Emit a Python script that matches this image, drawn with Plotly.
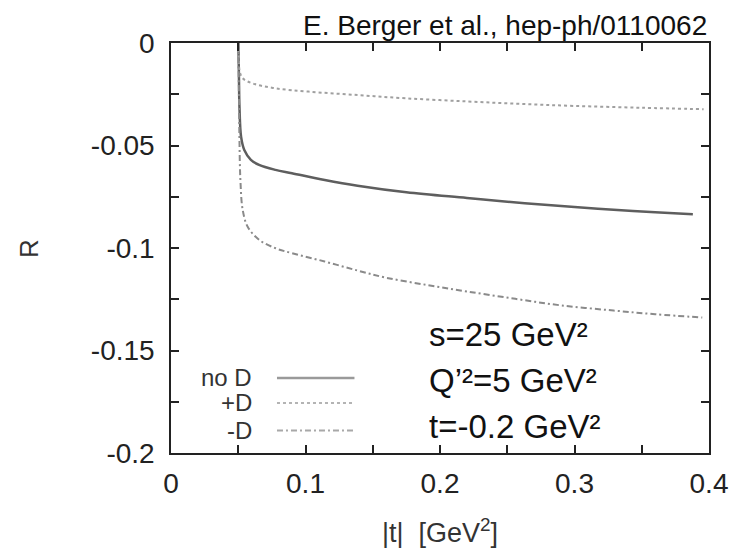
import plotly.graph_objects as go

# ---- data ----
t_noD = [0.0501, 0.0505, 0.0509, 0.0521, 0.0545, 0.0594, 0.0655, 0.0777, 0.0899, 0.1143,
         0.1387, 0.175, 0.22, 0.263, 0.30, 0.329, 0.360, 0.388]
R_noD = [0.0, -0.016, -0.031, -0.0457, -0.0522, -0.057, -0.0595, -0.0619, -0.0635, -0.0668,
         -0.0696, -0.0728, -0.0756, -0.0782, -0.0800, -0.0814, -0.0826, -0.0835]

t_plusD = [0.0501, 0.0505, 0.0509, 0.0533, 0.0606, 0.0777, 0.1021, 0.1387, 0.175, 0.22,
           0.26, 0.30, 0.35, 0.396]
R_plusD = [0.0, -0.008, -0.0132, -0.0172, -0.0197, -0.0221, -0.0237, -0.0254, -0.027, -0.0285,
           -0.0297, -0.0307, -0.0316, -0.0323]

t_minusD = [0.0501, 0.0505, 0.0509, 0.0516, 0.0533, 0.057, 0.0655, 0.0777, 0.0899, 0.1143,
            0.1387, 0.16, 0.19, 0.22, 0.256, 0.29, 0.329, 0.36, 0.395]
R_minusD = [0.0, -0.025, -0.0473, -0.0668, -0.0814, -0.0896, -0.096, -0.1001, -0.1025, -0.1066,
            -0.111, -0.1145, -0.118, -0.1212, -0.1248, -0.128, -0.1305, -0.1323, -0.1339]

series_names = ["no D", "+D", "-D"]
x_tickvals = [0, 0.05, 0.1, 0.15, 0.2, 0.25, 0.3, 0.35, 0.4]
x_ticktext = ["0", "", "0.1", "", "0.2", "", "0.3", "", "0.4"]
y_tickvals = [0, -0.025, -0.05, -0.075, -0.1, -0.125, -0.15, -0.175, -0.2]
y_ticktext = ["0", "", "-0.05", "", "-0.1", "", "-0.15", "", "-0.2"]

title_text = "E. Berger et al., hep-ph/0110062"
x_title = "|t|  [GeV<sup>2</sup>]"
y_title = "R"
info_lines = ["s=25 GeV\u00b2", "Q\u2019\u00b2=5 GeV\u00b2", "t=-0.2 GeV\u00b2"]

FONT = "Liberation Sans, Arial, sans-serif"
curve_styles = [
    dict(color="#5e5e5e", width=2.5, dash="solid"),
    dict(color="#a0a0a0", width=2, dash="dot"),
    dict(color="#8a8a8a", width=2, dash="6px,3px,2px,3px"),
]
legend_styles = [
    dict(color="#9a9a9a", width=2.5, dash="solid"),
    dict(color="#b4b4b4", width=2, dash="dot"),
    dict(color="#a8a8a8", width=2, dash="6px,3px,2px,3px"),
]

fig = go.Figure()
for (tx, ry), name, st in zip([(t_noD, R_noD), (t_plusD, R_plusD), (t_minusD, R_minusD)],
                              series_names, curve_styles):
    fig.add_trace(go.Scatter(x=tx, y=ry, mode="lines", name=name, line=st,
                             line_shape="spline", showlegend=False))

axis_common = dict(showline=True, linecolor="#222", linewidth=1.5, mirror="ticks",
                   ticks="inside", ticklen=8, tickwidth=1.5, tickcolor="#222",
                   showgrid=False, zeroline=False,
                   tickfont=dict(family=FONT, size=28, color="#222"))

fig.update_xaxes(range=[0, 0.4], tickvals=x_tickvals, ticktext=x_ticktext,
                 ticklabelstandoff=5, **axis_common)
fig.update_yaxes(range=[-0.2, 0], tickvals=y_tickvals, ticktext=y_ticktext,
                 ticklabelstandoff=9, **axis_common)

annotations = [
    dict(text=title_text, xref="paper", yref="paper", x=1.0, y=1.043, xanchor="right",
         yanchor="middle", showarrow=False, font=dict(family=FONT, size=28, color="#111")),
    dict(text=x_title, xref="paper", yref="paper", x=0.5, y=-0.19, xanchor="center",
         yanchor="middle", showarrow=False, font=dict(family=FONT, size=27, color="#333")),
    dict(text=y_title, xref="paper", yref="paper", x=-0.264, y=0.5, xanchor="center",
         yanchor="middle", textangle=-90, showarrow=False,
         font=dict(family=FONT, size=26, color="#333")),
]
info_y = [0.288, 0.178, 0.064]
for txt, yy in zip(info_lines, info_y):
    annotations.append(dict(text=txt, xref="paper", yref="paper", x=0.476, y=yy,
                            xanchor="left", yanchor="middle", showarrow=False,
                            font=dict(family=FONT, size=33, color="#111")))

legend_y = [0.183, 0.122, 0.055]
shapes = []
for name, st, yy in zip(series_names, legend_styles, legend_y):
    annotations.append(dict(text=name, xref="paper", yref="paper", x=0.155, y=yy,
                            xanchor="right", yanchor="middle", showarrow=False,
                            font=dict(family=FONT, size=24, color="#333")))
    shapes.append(dict(type="line", xref="paper", yref="paper", x0=0.197, x1=0.341,
                       y0=yy, y1=yy, line=dict(color=st["color"], width=st["width"],
                                               dash=st["dash"])))

# page body adds an 8px margin, so the figure is sized to the visible area
fig.update_layout(width=732, height=540, margin=dict(l=162.5, r=23, t=35, b=95),
                  paper_bgcolor="white", plot_bgcolor="white",
                  annotations=annotations, shapes=shapes)

fig.write_html("out.html")
